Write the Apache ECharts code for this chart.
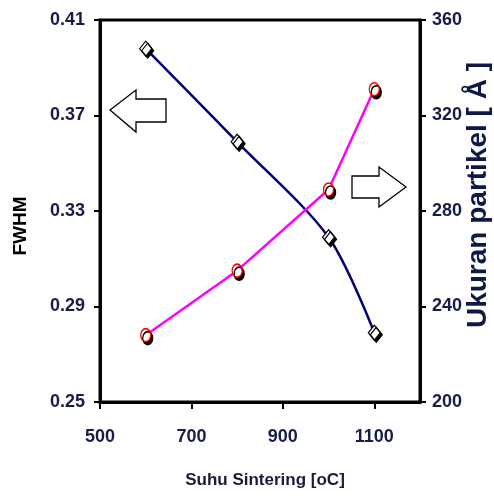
<!DOCTYPE html>
<html>
<head>
<meta charset="utf-8">
<script src="https://cdn.jsdelivr.net/npm/echarts@6/dist/echarts.min.js"></script>
<style>
  html, body { margin: 0; padding: 0; background: #fff; }
  #chart { width: 494px; height: 499px; }
</style>
</head>
<body>
<div id="chart"></div>
<script>
// data
var suhu = [600, 800, 1000, 1100];           // Suhu Sintering [oC]
var fwhm = [0.398, 0.359, 0.319, 0.279];     // FWHM (left axis)
var ukuran = [228, 255, 289, 331];           // Ukuran partikel (right axis)

var font = '"Liberation Sans", Arial, sans-serif';
var tickColor = '#171c48';

function pairs(xs, ys) {
  var out = [];
  for (var i = 0; i < xs.length; i++) out.push([xs[i], ys[i]]);
  return out;
}

var myChart = echarts.init(document.getElementById('chart'));
var option = {
  animation: false,
  grid: {
    left: 100, right: 74, top: 20, bottom: 97,
    outerBoundsMode: 'none',
    containLabel: false,
    show: true, borderColor: '#000', borderWidth: 3
  },
  xAxis: {
    type: 'value',
    min: 500, max: 1200, interval: 200,
    name: 'Suhu Sintering [oC]',
    nameLocation: 'middle',
    nameGap: 70,
    nameTextStyle: { fontFamily: font, fontSize: 17, fontWeight: 'bold', color: '#1a1a3a', padding: [0, 0, 0, 10] },
    axisLine: { lineStyle: { color: '#000', width: 3 } },
    axisTick: { length: 7, lineStyle: { color: '#000', width: 2 } },
    axisLabel: {
      showMaxLabel: false, margin: 26, fontFamily: font, fontSize: 18, fontWeight: 'bold', color: tickColor,
      formatter: function (v) { return String(v); }
    },
    splitLine: { show: false }
  },
  yAxis: [
    {
      type: 'value',
      min: 0.25, max: 0.41, interval: 0.04,
      name: 'FWHM',
      nameLocation: 'middle',
      nameRotate: 90,
      nameGap: 70,
      nameTextStyle: { fontFamily: font, fontSize: 19, fontWeight: 'bold', color: '#000', padding: [0, 30, 0, 0] },
      axisLine: { show: true, lineStyle: { color: '#000', width: 3 } },
      axisTick: { length: 6, lineStyle: { color: '#000', width: 2 } },
      axisLabel: {
        margin: 15, fontFamily: font, fontSize: 18, fontWeight: 'bold', color: tickColor,
        formatter: function (v) { return v.toFixed(2); }
      },
      splitLine: { show: false }
    },
    {
      type: 'value',
      position: 'right',
      min: 200, max: 360, interval: 40,
      name: 'Ukuran partikel [ Å ]',
      nameLocation: 'middle',
      nameRotate: 90,
      nameGap: 44,
      nameMoveOverlap: false,
      nameTextStyle: { fontFamily: font, fontSize: 28, fontWeight: 'bold', color: '#101848', padding: [0, 0, 0, 32] },
      axisLine: { show: true, lineStyle: { color: '#000', width: 3 } },
      axisTick: { length: 6, lineStyle: { color: '#000', width: 2 } },
      axisLabel: { margin: 12, fontFamily: font, fontSize: 18, fontWeight: 'bold', color: tickColor },
      splitLine: { show: false }
    }
  ],
  series: [
    {
      name: 'FWHM',
      type: 'line',
      yAxisIndex: 0,
      data: pairs(suhu, fwhm),
      smooth: 0.3,
      symbol: 'diamond',
      symbolSize: [12, 15],
      lineStyle: { color: '#00007a', width: 2.5 },
      itemStyle: { color: '#fff', borderColor: '#000', borderWidth: 1.2, shadowColor: '#000', shadowOffsetX: 2, shadowOffsetY: 2 }
    },
    {
      name: 'Ukuran partikel',
      type: 'line',
      yAxisIndex: 1,
      data: pairs(suhu, ukuran),
      symbol: 'circle',
      symbolSize: [10, 13],
      lineStyle: { color: '#ff00ff', width: 2.5 },
      itemStyle: { color: '#fff', borderColor: '#ff0000', borderWidth: 1.5, shadowColor: '#000', shadowOffsetX: 2, shadowOffsetY: 3 }
    }
  ],
  graphic: [
    {
      type: 'polygon',
      shape: { points: [[110, 110], [136, 90], [136, 99], [166, 99], [166, 122], [136, 122], [136, 132]] },
      style: { fill: '#fff', stroke: '#000', lineWidth: 1.3 }
    },
    {
      type: 'polygon',
      shape: { points: [[406, 187], [379, 167], [379, 176], [352, 176], [352, 198], [379, 198], [379, 207]] },
      style: { fill: '#fff', stroke: '#000', lineWidth: 1.3 }
    }
  ]
};
myChart.setOption(option);
</script>
</body>
</html>
